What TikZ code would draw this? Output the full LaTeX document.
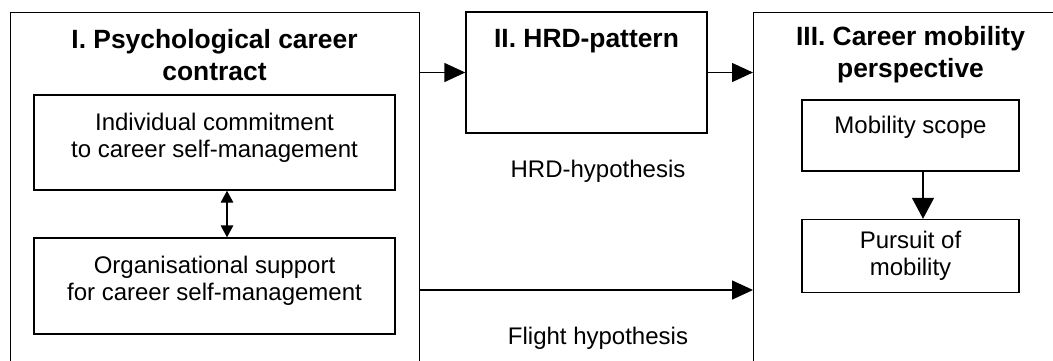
\documentclass[tikz,border=0pt]{standalone}
\usepackage{fontspec}
\setmainfont{Liberation Sans}
\usetikzlibrary{arrows.meta,positioning}
\begin{document}
\begin{tikzpicture}[x=0.5pt, y=-0.5pt,
	box/.style = {draw, line width=0.7pt, inner sep=0pt, align=center,
		font=\fontsize{12}{13.5}\selectfont},
	title/.style = {align=center, inner sep=0pt, font=\fontsize{13.2}{16}\selectfont\bfseries},
	plain/.style = {inner sep=0pt, font=\fontsize{12}{13.5}\selectfont},
	arr/.style = {line width=0.7pt, -{Triangle[length=10.5pt,width=9.5pt]}}]
	\path[use as bounding box] (0,0) rectangle (1053,360);
	\clip (0,0) rectangle (1053,360);
	\node[box, anchor=north west, minimum width=204.5pt, minimum height=190pt] (psy) at (10,12) {};
	\node[title] (psyT) at (214.5,55) {I. Psychological career\\contract};
	\node[box, minimum width=180.5pt, minimum height=47.5pt] (commit) at (214.5,142.5)
		{Individual commitment\\to career self-management\\[-6pt]\mbox{}};
	\node[box, minimum width=180.5pt, minimum height=48pt] (org) at (214.5,286)
		{Organisational support\\for career self-management\\[-6pt]\mbox{}};
	\node[box, minimum width=120.5pt, minimum height=60.5pt] (hrd) at (586.5,72.5) {};
	\node[title] (hrdT) at (586.5,41) {II. HRD-pattern};
	\node[box, anchor=north west, minimum width=158.5pt, minimum height=190pt] (mob) at (753,12) {};
	\node[title] (mobT) at (910.5,55) {III. Career mobility\\perspective};
	\node[box, minimum width=108.5pt, minimum height=35.5pt] (scope) at (910.5,135.5)
		{Mobility scope\\[-3pt]\mbox{}};
	\node[box, minimum width=108.5pt, minimum height=36.5pt] (pursuit) at (910.5,256)
		{Pursuit of\\mobility};
	\node[plain] (hrdH) at (598,171) {HRD-hypothesis};
	\node[plain] (flightH) at (598,338) {Flight hypothesis};

	\draw[line width=0.7pt, {Triangle[length=6pt,width=6.3pt]}-{Triangle[length=6pt,width=6.3pt]}]
		([xshift=6.25pt]commit.south) -- ([xshift=6.25pt]org.north);
	\draw[arr] (psy.east |- hrd.west) -- (hrd.west);
	\draw[arr] (hrd.east) -- (hrd.east -| mob.west);
	\draw[arr] ([yshift=-2pt]org.east -| psy.east) -- ([yshift=-2pt]org.east -| mob.west);
	\draw[line width=0.7pt, -{Triangle[length=10.5pt,width=11pt]}]
		([xshift=6.25pt]scope.south) -- ([xshift=6.25pt]pursuit.north);
\end{tikzpicture}
\end{document}
